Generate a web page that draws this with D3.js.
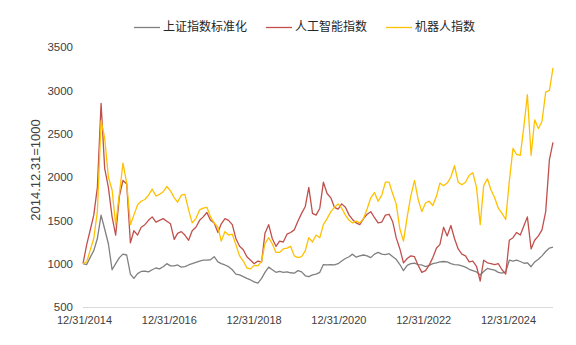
<!DOCTYPE html>
<html>
<head>
<meta charset="utf-8">
<script src="https://cdn.jsdelivr.net/npm/d3@7"></script>
<style>
  html, body { margin: 0; padding: 0; background: #fff; }
  svg { display: block; }
  .num { font-family: "Liberation Sans", Arial, sans-serif; fill: #404040; }
  .cjk { font-family: "Noto Sans CJK SC", "Noto Sans", sans-serif; fill: #262626; }
</style>
</head>
<body>
<svg id="chart" width="576" height="345"></svg>
<script>
// Month-end index levels, 2014-12-31 = 1000 (first value), through 2025-09.
const seriesNames = ["上证指数标准化", "人工智能指数", "机器人指数"];
const seriesColors = ["#808080", "#C0504D", "#FFC000"];

const sseNorm = [1000,
  990,1070,1150,1290,1560,1400,1230,930,1000,1070,1110,1100,
  880,830,885,910,915,905,930,950,940,965,1000,975,
  975,985,960,965,985,1000,1015,1030,1040,1040,1045,1080,
  1020,1000,985,965,930,880,870,850,830,812,790,775,
  830,900,960,930,900,910,900,905,895,890,920,905,
  860,850,870,880,900,990,985,990,985,1000,1030,1060,
  1080,1110,1075,1090,1100,1090,1070,1110,1130,1110,1105,1115,
  1080,1050,990,920,980,1000,1005,990,985,965,980,1000,
  1010,1020,1025,1020,1000,990,985,975,960,935,920,905,
  870,910,945,935,925,900,890,905,1040,1030,1040,1025,
  1005,1010,965,1020,1050,1090,1140,1180,1190];

const aiIndex = [1000,
  1220,1380,1560,1880,2850,2100,1880,1540,1330,1780,1960,1920,
  1240,1380,1330,1420,1450,1500,1540,1480,1500,1520,1490,1460,
  1280,1350,1370,1330,1270,1380,1420,1500,1540,1590,1500,1470,
  1360,1460,1520,1500,1450,1290,1200,1160,1080,1040,1000,1030,
  1020,1350,1450,1290,1200,1260,1250,1340,1360,1390,1490,1580,
  1660,1880,1580,1560,1640,1940,1810,1760,1650,1630,1690,1650,
  1560,1510,1470,1450,1520,1570,1600,1530,1470,1480,1560,1570,
  1480,1300,1170,1010,1060,1090,1080,980,900,920,980,1070,
  1180,1220,1420,1320,1440,1290,1170,1110,1090,1020,1030,970,
  800,1040,1010,1000,990,1000,930,880,1270,1300,1360,1330,
  1440,1540,1170,1270,1320,1390,1600,2200,2400];

const robotIndex = [1000,
  1020,1150,1290,1600,2650,2450,2000,1850,1450,1810,2160,1930,
  1450,1560,1680,1720,1740,1790,1860,1780,1800,1830,1890,1840,
  1760,1710,1790,1800,1620,1470,1520,1620,1640,1650,1540,1470,
  1420,1260,1370,1330,1340,1220,1090,1030,950,940,980,975,
  1030,1230,1300,1230,1130,1130,1170,1180,1200,1090,1070,1080,
  1150,1300,1250,1330,1300,1450,1520,1600,1650,1690,1640,1560,
  1500,1470,1490,1470,1520,1630,1760,1820,1720,1790,1940,1940,
  1800,1690,1400,1260,1540,1780,1960,1740,1600,1700,1720,1670,
  1780,1930,1900,1930,2000,2130,1940,1910,1940,2020,2050,1880,
  1450,1900,1980,1850,1760,1640,1580,1510,1950,2330,2260,2250,
  2600,2950,2250,2660,2560,2640,2980,3000,3260];

const yTicks = [500, 1000, 1500, 2000, 2500, 3000, 3500];
const xTickLabels = ["12/31/2014", "12/31/2016", "12/31/2018", "12/31/2020", "12/31/2022", "12/31/2024"];
const yTitle = "2014.12.31=1000";

// Month-end dates: index 0 is 2014-12-31
const dates = sseNorm.map((_, i) => new Date(Date.UTC(2015, i, 0)));

const svg = d3.select("#chart");
const plot = { left: 83, right: 553, top: 47, bottom: 307 };

const x = d3.scaleUtc()
  .domain([dates[0], dates[dates.length - 1]])
  .range([plot.left, plot.right]);

const y = d3.scaleLinear()
  .domain([500, 3500])
  .range([plot.bottom, plot.top]);

// Category-style label positions along the bottom
const xLab = d3.scalePoint()
  .domain(xTickLabels)
  .range([84, 508]);

// Baseline
svg.append("line")
  .attr("x1", plot.left).attr("x2", plot.right)
  .attr("y1", plot.bottom + 0.5).attr("y2", plot.bottom + 0.5)
  .attr("stroke", "#d9d9d9").attr("stroke-width", 1);

// Y axis labels
const yAxis = svg.append("g")
  .attr("transform", `translate(${plot.left},0)`)
  .call(d3.axisLeft(y).tickValues(yTicks).tickSize(0).tickPadding(10).tickFormat(d3.format("d")));
yAxis.select(".domain").remove();
yAxis.selectAll("text").attr("class", "num").attr("font-size", 11.5).style("fill", "#404040");

// X axis labels
const xAxis = svg.append("g")
  .attr("transform", `translate(0,${plot.bottom})`)
  .call(d3.axisBottom(xLab).tickSize(0).tickPadding(9));
xAxis.select(".domain").remove();
xAxis.selectAll("text").attr("class", "num").attr("font-size", 11).style("fill", "#404040");

// Y axis title
svg.append("text")
  .attr("class", "num")
  .attr("transform", "translate(40,170) rotate(-90)")
  .attr("text-anchor", "middle")
  .attr("font-size", 13)
  .style("fill", "#404040")
  .text(yTitle);

// Lines
const seriesValues = [sseNorm, aiIndex, robotIndex];
const line = d3.line()
  .x((d, i) => x(dates[i]))
  .y(d => y(d));

svg.append("g").selectAll("path")
  .data(seriesValues)
  .join("path")
  .attr("d", d => line(d))
  .attr("fill", "none")
  .attr("stroke", (d, i) => seriesColors[i])
  .attr("stroke-width", 1.3)
  .attr("stroke-linejoin", "round");

// Legend
const legend = svg.append("g").attr("transform", "translate(0,27)");
let lx = 134;
seriesNames.forEach((name, i) => {
  const g = legend.append("g").attr("transform", `translate(${lx},0)`);
  g.append("line")
    .attr("x1", 0).attr("x2", 26).attr("y1", 0.5).attr("y2", 0.5)
    .attr("stroke", seriesColors[i]).attr("stroke-width", 1.3);
  const t = g.append("text")
    .attr("class", "cjk")
    .attr("x", 29).attr("y", 0).attr("dy", "0.36em")
    .attr("font-size", 12)
    .text(name);
  lx += 29 + t.node().getComputedTextLength() + 19;
});
</script>
</body>
</html>
